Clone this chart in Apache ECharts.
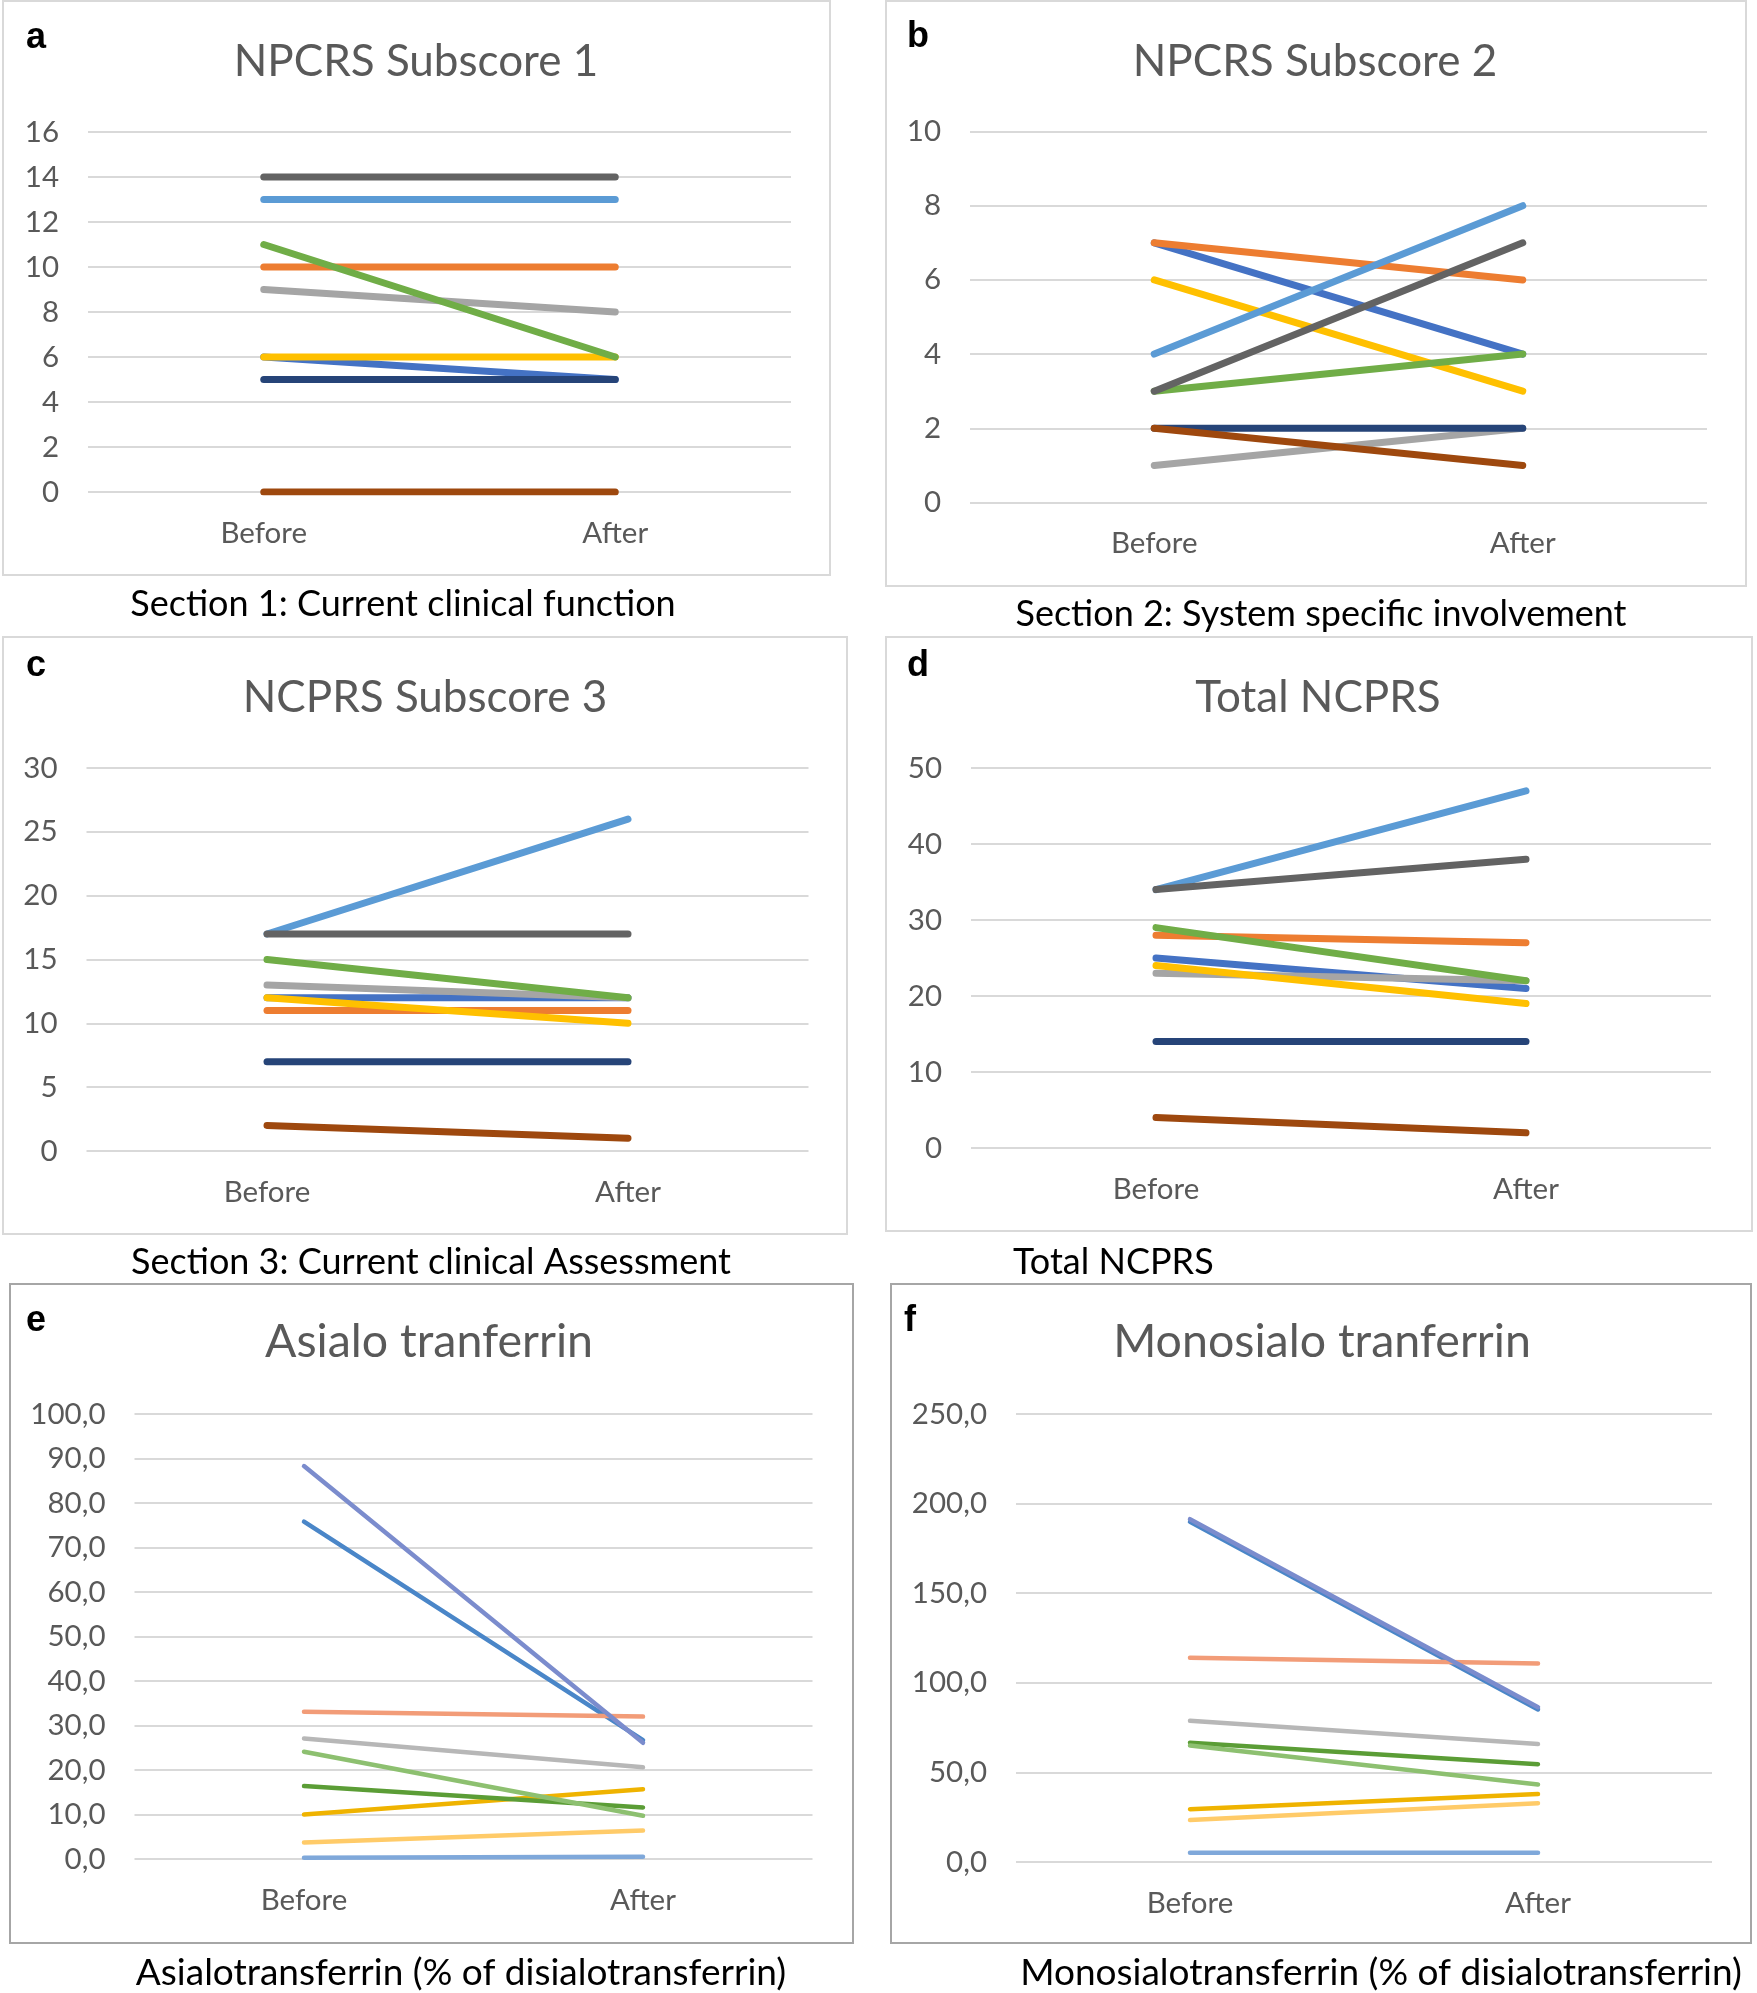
<!DOCTYPE html>
<html>
<head>
<meta charset="utf-8">
<script src="https://cdn.jsdelivr.net/npm/echarts@6/dist/echarts.min.js"></script>
<style>
html,body{margin:0;padding:0;background:#fff;}
#c{width:1757px;height:1993px;}
</style>
</head>
<body>
<div id="c"></div>
<script>
// ---------- DATA ----------
var categories = ['Before', 'After'];

// NPCRS panels: 9 patients (Excel series order)
var npcrsColors = ['#4472C4', '#ED7D31', '#A5A5A5', '#FFC000', '#5B9BD5', '#70AD47', '#264478', '#9E480E', '#636363'];
var sub1Before  = [6, 10, 9, 6, 13, 11, 5, 0, 14];
var sub1After   = [5, 10, 8, 6, 13, 6, 5, 0, 14];
var sub2Before  = [7, 7, 1, 6, 4, 3, 2, 2, 3];
var sub2After   = [4, 6, 2, 3, 8, 4, 2, 1, 7];
var sub3Before  = [12, 11, 13, 12, 17, 15, 7, 2, 17];
var sub3After   = [12, 11, 12, 10, 26, 12, 7, 1, 17];
var totalBefore = [25, 28, 23, 24, 34, 29, 14, 4, 34];
var totalAfter  = [21, 27, 22, 19, 47, 22, 14, 2, 38];

// Transferrin panels
var tfColors     = ['#4A86C8', '#F29C78', '#B7B7B7', '#EFB300', '#7FA8DA', '#5B9D36', '#7B8CCD', '#FFCB69', '#8DC070'];
var asialoBefore = [75.8, 33.1, 27.1, 10.0, 0.3, 16.4, 88.3, 3.7, 24.1];
var asialoAfter  = [26.7, 32.0, 20.6, 15.7, 0.5, 11.6, 26.1, 6.4, 9.7];
var monoBefore   = [189.8, 114.0, 78.8, 29.5, 5.1, 66.6, 191.3, 23.4, 65.0];
var monoAfter    = [85.1, 110.8, 65.8, 37.9, 5.1, 54.6, 86.4, 32.8, 43.2];

// Axis settings [min, max, interval]
var axisA = [0, 16, 2];
var axisB = [0, 10, 2];
var axisC = [0, 30, 5];
var axisD = [0, 50, 10];
var axisE = [0, 100, 10];
var axisF = [0, 250, 50];

var titles   = ['NPCRS Subscore 1', 'NPCRS Subscore 2', 'NCPRS Subscore 3', 'Total NCPRS', 'Asialo tranferrin', 'Monosialo tranferrin'];
var captions = ['Section 1: Current clinical function', 'Section 2: System specific involvement', 'Section 3: Current clinical Assessment', 'Total NCPRS', 'Asialotransferrin (% of disialotransferrin)', 'Monosialotransferrin (% of disialotransferrin)'];
var letters  = ['a', 'b', 'c', 'd', 'e', 'f'];

// ---------- LAYOUT ----------
var FONT = 'Lato, "Open Sans", sans-serif';
var panels = [
  {grid:{left:88, top:132, width:703, height:360}, axis:axisA, b:sub1Before, a:sub1After, colors:npcrsColors, lw:7, dec:false,
   box:[3,1,827,574], boxColor:'#D9D9D9', title:[416,62,44], cap:[403,604,'center',36], letter:[36,38]},
  {grid:{left:970, top:131.5, width:737, height:371}, axis:axisB, b:sub2Before, a:sub2After, colors:npcrsColors, lw:7, dec:false,
   box:[886,1,860,585], boxColor:'#D9D9D9', title:[1315,62,44], cap:[1321,614,'center',36], letter:[918,37]},
  {grid:{left:86.5, top:768, width:722, height:383}, axis:axisC, b:sub3Before, a:sub3After, colors:npcrsColors, lw:7, dec:false,
   box:[3,637,844,597], boxColor:'#D9D9D9', title:[425,698,44], cap:[431,1262,'center',36], letter:[36,666]},
  {grid:{left:971, top:768, width:740, height:380}, axis:axisD, b:totalBefore, a:totalAfter, colors:npcrsColors, lw:7, dec:false,
   box:[886,637,866,594], boxColor:'#D9D9D9', title:[1318,698,44], cap:[1013,1262,'left',36], letter:[918,666]},
  {grid:{left:134.5, top:1414, width:678, height:445}, axis:axisE, b:asialoBefore, a:asialoAfter, colors:tfColors, lw:4.5, dec:true,
   box:[10,1284,843,659], boxColor:'#A6A6A6', title:[429,1342,46.5], cap:[461,1973,'center',37], letter:[36,1321]},
  {grid:{left:1016, top:1414, width:696, height:448}, axis:axisF, b:monoBefore, a:monoAfter, colors:tfColors, lw:4.5, dec:true,
   box:[891,1284,860,659], boxColor:'#A6A6A6', title:[1322,1342,46.5], cap:[1381,1973,'center',37], letter:[910,1321]}
];

var option = {
  animation: false,
  backgroundColor: '#ffffff',
  grid: [], xAxis: [], yAxis: [], series: [], title: [], graphic: []
};

panels.forEach(function (p, i) {
  // frame
  option.graphic.push({type:'rect', z:-10, shape:{x:p.box[0], y:p.box[1], width:p.box[2], height:p.box[3]},
    style:{fill:'#ffffff', stroke:p.boxColor, lineWidth:2}});
  // letter
  option.graphic.push({type:'text', x:p.letter[0], y:p.letter[1], z:10,
    style:{text:letters[i], font:'bold 36px "Liberation Sans", Arial, sans-serif', fill:'#000', textAlign:'center', textVerticalAlign:'middle'}});
  // title
  option.graphic.push({type:'text', x:p.title[0], y:p.title[1], z:10,
    style:{text:titles[i], font:p.title[2] + 'px ' + FONT, fill:'#595959', textAlign:'center', textVerticalAlign:'middle'}});
  // caption
  option.graphic.push({type:'text', x:p.cap[0], y:p.cap[1], z:10,
    style:{text:captions[i], font:p.cap[3] + 'px ' + FONT, fill:'#000', textAlign:p.cap[2], textVerticalAlign:'middle'}});

  option.grid.push(Object.assign({containLabel:false}, p.grid));
  option.xAxis.push({
    type:'category', gridIndex:i, data:categories, boundaryGap:true,
    axisLine:{show:false}, axisTick:{show:false}, splitLine:{show:false},
    axisLabel:{color:'#595959', fontFamily:'Lato', fontSize:29.5, margin:26}
  });
  option.yAxis.push({
    type:'value', gridIndex:i, min:p.axis[0], max:p.axis[1], interval:p.axis[2],
    axisLine:{show:false}, axisTick:{show:false},
    splitLine:{show:true, lineStyle:{color:'#D9D9D9', width:2}},
    axisLabel:{color:'#595959', fontFamily:'Lato', fontSize:29.5, margin:29,
      formatter: p.dec ? function (v) { return v.toFixed(1).replace('.', ','); } : function (v) { return String(v); }}
  });
  for (var k = 0; k < p.b.length; k++) {
    option.series.push({
      type:'line', xAxisIndex:i, yAxisIndex:i, data:[p.b[k], p.a[k]],
      symbol:'none', showSymbol:false, silent:true,
      lineStyle:{color:p.colors[k], width:p.lw, cap:'round', join:'round'}
    });
  }
});

var chart = echarts.init(document.getElementById('c'), null, {renderer:'canvas'});
chart.setOption(option);
</script>
</body>
</html>
